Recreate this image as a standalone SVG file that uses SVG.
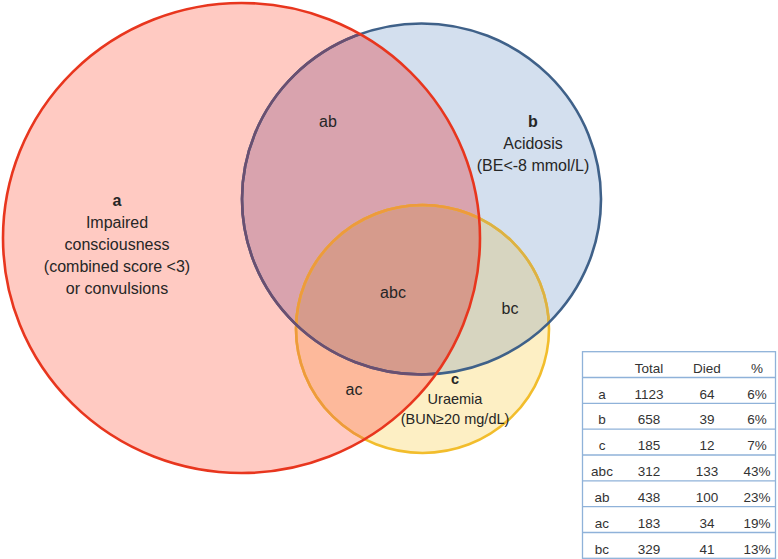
<svg xmlns="http://www.w3.org/2000/svg" xmlns:xlink="http://www.w3.org/1999/xlink" width="778" height="559" viewBox="0 0 778 559">
<style>
text{font-family:"Liberation Sans",Arial,sans-serif;fill:#262626;text-anchor:middle}
.lbl{font-size:16px}
.sm{font-size:14.5px}
.b{font-weight:bold}
.tb{font-size:13.5px;fill:#333}
.tl{stroke:#8fb2d9;stroke-width:1.3}
</style>
<defs>
<ellipse id="eA" cx="241.5" cy="238" rx="238.5" ry="235"/>
<ellipse id="eB" cx="421.5" cy="199" rx="179.5" ry="175.5"/>
<ellipse id="eC" cx="422.5" cy="329" rx="126.5" ry="124"/>
<clipPath id="clipA"><use xlink:href="#eA"/></clipPath>
<clipPath id="clipB"><use xlink:href="#eB"/></clipPath>
<clipPath id="clipAB" clip-path="url(#clipA)"><use xlink:href="#eB"/></clipPath>
</defs>
<rect width="778" height="559" fill="#ffffff"/>
<g id="set-a-fill"><use xlink:href="#eA" fill="#ffcac2"/></g>
<g id="set-b-fill"><use xlink:href="#eB" fill="#d3dfee"/></g>
<g id="set-c-fill"><use xlink:href="#eC" fill="#fdefc4"/></g>
<g id="overlaps">
<use xlink:href="#eB" fill="#d9a3ae" clip-path="url(#clipA)"/>
<use xlink:href="#eC" fill="#fdb99b" clip-path="url(#clipA)"/>
<use xlink:href="#eC" fill="#d7d5c0" clip-path="url(#clipB)"/>
<use xlink:href="#eC" fill="#d69b8c" clip-path="url(#clipAB)"/>
</g>
<g id="outlines" fill="none" stroke-width="2.6">
<use xlink:href="#eC" stroke="#f2bd2c"/>
<use xlink:href="#eC" stroke="#dcb244" clip-path="url(#clipB)"/>
<use xlink:href="#eC" stroke="#ee9a3c" clip-path="url(#clipA)"/>
<use xlink:href="#eB" stroke="#3f6189"/>
<use xlink:href="#eB" stroke="#6b4f70" clip-path="url(#clipA)"/>
<use xlink:href="#eA" stroke="#e8361e"/>
</g>
<g id="set-a">
<text class="lbl b" x="117" y="206">a</text>
<text class="lbl" x="117" y="228">Impaired</text>
<text class="lbl" x="117" y="250">consciousness</text>
<text class="lbl" x="117" y="272">(combined score &lt;3)</text>
<text class="lbl" x="117" y="294">or convulsions</text>
</g>
<g id="set-b">
<text class="lbl b" x="533" y="127">b</text>
<text class="lbl" x="533" y="149">Acidosis</text>
<text class="lbl" x="533" y="171">(BE&lt;-8 mmol/L)</text>
</g>
<g id="set-c">
<text class="sm b" x="455" y="384">c</text>
<text class="sm" x="455" y="404">Uraemia</text>
<text class="sm" x="455" y="424">(BUN≥20 mg/dL)</text>
</g>
<g id="region-ab"><text class="lbl" x="328" y="127">ab</text></g>
<g id="region-abc"><text class="lbl" x="393" y="298">abc</text></g>
<g id="region-bc"><text class="lbl" x="510" y="314">bc</text></g>
<g id="region-ac"><text class="lbl" x="354" y="395">ac</text></g>
<g id="table">
<rect x="582.5" y="351.7" width="193" height="206.6" fill="#ffffff" class="tl"/>
<line class="tl" x1="582.5" x2="775.5" y1="377.5" y2="377.5"/>
<line class="tl" x1="582.5" x2="775.5" y1="403.3" y2="403.3"/>
<line class="tl" x1="582.5" x2="775.5" y1="429.2" y2="429.2"/>
<line class="tl" x1="582.5" x2="775.5" y1="455" y2="455"/>
<line class="tl" x1="582.5" x2="775.5" y1="480.8" y2="480.8"/>
<line class="tl" x1="582.5" x2="775.5" y1="506.7" y2="506.7"/>
<line class="tl" x1="582.5" x2="775.5" y1="532.5" y2="532.5"/>
<g class="tb">
<text class="tb" x="649" y="373">Total</text><text class="tb" x="707" y="373">Died</text><text class="tb" x="757" y="373">%</text>
<text class="tb" x="602" y="398.5">a</text><text class="tb" x="649" y="398.5">1123</text><text class="tb" x="707" y="398.5">64</text><text class="tb" x="757" y="398.5">6%</text>
<text class="tb" x="602" y="424.3">b</text><text class="tb" x="649" y="424.3">658</text><text class="tb" x="707" y="424.3">39</text><text class="tb" x="757" y="424.3">6%</text>
<text class="tb" x="602" y="450.2">c</text><text class="tb" x="649" y="450.2">185</text><text class="tb" x="707" y="450.2">12</text><text class="tb" x="757" y="450.2">7%</text>
<text class="tb" x="602" y="476">abc</text><text class="tb" x="649" y="476">312</text><text class="tb" x="707" y="476">133</text><text class="tb" x="757" y="476">43%</text>
<text class="tb" x="602" y="501.8">ab</text><text class="tb" x="649" y="501.8">438</text><text class="tb" x="707" y="501.8">100</text><text class="tb" x="757" y="501.8">23%</text>
<text class="tb" x="602" y="527.7">ac</text><text class="tb" x="649" y="527.7">183</text><text class="tb" x="707" y="527.7">34</text><text class="tb" x="757" y="527.7">19%</text>
<text class="tb" x="602" y="553.5">bc</text><text class="tb" x="649" y="553.5">329</text><text class="tb" x="707" y="553.5">41</text><text class="tb" x="757" y="553.5">13%</text>
</g>
</g>
</svg>
